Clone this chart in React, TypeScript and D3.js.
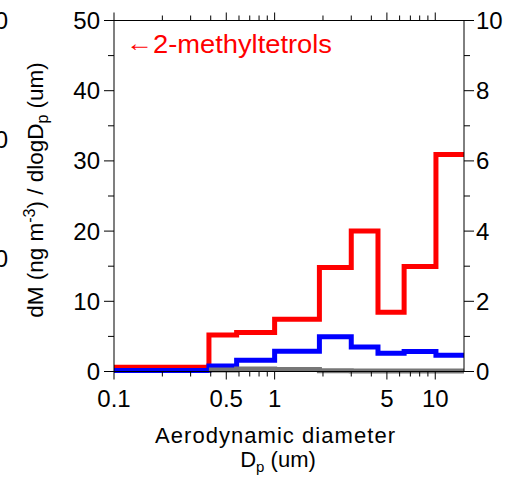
import React from "react";
import * as d3 from "d3";

const edges = [0.1, 0.39, 0.58, 1.0, 1.9, 3.0, 4.4, 6.4, 10.1, 15.1];
const redValues = [0.6, 5.2, 5.55, 7.45, 14.8, 20.0, 8.45, 14.95, 30.9];
const blueValues = [0.15, 0.8, 1.6, 2.9, 4.95, 3.5, 2.6, 2.85, 2.3];
const greyEdges = [0.39, 0.58, 1.0, 1.9, 3.0, 4.4, 6.4, 10.1, 15.1];
const greyValues = [0.2, 0.35, 0.3, 0.12, 0.08, 0.06, 0.06, 0.06];

const xMajor = [0.1, 0.5, 1, 5, 10];
const xMajorLabels = ["0.1", "0.5", "1", "5", "10"];
const xMinor = [0.2, 0.3, 0.4, 0.6, 0.7, 0.8, 0.9, 2, 3, 4, 6, 7, 8, 9];
const yLeftMajor = [0, 10, 20, 30, 40, 50];
const yLeftMinor = [5, 15, 25, 35, 45];
const yRightMajor = [0, 2, 4, 6, 8, 10];
const yRightMinor = [1, 3, 5, 7, 9];

const FONT = "'Liberation Sans', Arial, sans-serif";

export default function App() {
  const L = 114, R = 464, T = 20.5, B = 371.5;
  const x = d3.scaleLog().domain([0.1, 15.1]).range([L, R]);
  const y = d3.scaleLinear().domain([0, 50]).range([B, T]);
  const yR = d3.scaleLinear().domain([0, 10]).range([B, T]);

  const stairs = (e: number[], v: number[]) => {
    const pts: [number, number][] = v.map((val, i) => [e[i], val]);
    pts.push([e[e.length - 1], v[v.length - 1]]);
    return d3
      .line<[number, number]>()
      .x((d) => x(d[0]))
      .y((d) => y(d[1]))
      .curve(d3.curveStepAfter)(pts) as string;
  };

  return (
    <svg
      width={509}
      height={483}
      style={{ position: "absolute", left: 0, top: 0, background: "#fff" }}
      fontFamily={FONT}
    >
      {/* cut-off labels of a neighbouring panel */}
      {[21, 140, 259].map((yy, i) => (
        <text key={"frag" + i} x={8} y={yy + 8} fontSize={24} textAnchor="end" fill="#000">
          0
        </text>
      ))}

      {/* data */}
      <g fill="none" strokeWidth={5} strokeLinejoin="miter">
        <path d={stairs(edges, redValues)} stroke="#ff0000" />
        <path d={stairs(edges, blueValues)} stroke="#0000ff" />
        <path d={stairs(greyEdges, greyValues)} stroke="#777777" />
      </g>

      {/* frame */}
      <rect x={L} y={T} width={R - L} height={B - T} fill="none" stroke="#000" strokeWidth={1} />

      {/* ticks */}
      <g stroke="#000" strokeWidth={1}>
        {xMajor.map((v) => (
          <g key={"xM" + v}>
            <line x1={x(v)} x2={x(v)} y1={B} y2={B + 8} />
            <line x1={x(v)} x2={x(v)} y1={T} y2={T - 8} />
          </g>
        ))}
        {xMinor.map((v) => (
          <g key={"xm" + v}>
            <line x1={x(v)} x2={x(v)} y1={B} y2={B + 5} />
            <line x1={x(v)} x2={x(v)} y1={T} y2={T - 5} />
          </g>
        ))}
        {yLeftMajor.map((v) => (
          <line key={"yl" + v} x1={L} x2={L - 10} y1={y(v)} y2={y(v)} />
        ))}
        {yLeftMinor.map((v) => (
          <line key={"ylm" + v} x1={L} x2={L - 6} y1={y(v)} y2={y(v)} />
        ))}
        {yRightMajor.map((v) => (
          <line key={"yr" + v} x1={R} x2={R + 10} y1={yR(v)} y2={yR(v)} />
        ))}
        {yRightMinor.map((v) => (
          <line key={"yrm" + v} x1={R} x2={R + 6} y1={yR(v)} y2={yR(v)} />
        ))}
      </g>

      {/* tick labels */}
      <g fontSize={24} fill="#000">
        {xMajor.map((v, i) => (
          <text key={"xl" + v} x={x(v)} y={407} textAnchor="middle">
            {xMajorLabels[i]}
          </text>
        ))}
        {yLeftMajor.map((v) => (
          <text key={"yll" + v} x={100} y={y(v) + 8.5} textAnchor="end">
            {v}
          </text>
        ))}
        {yRightMajor.map((v) => (
          <text key={"yrl" + v} x={476} y={yR(v) + 8.5} textAnchor="start">
            {v}
          </text>
        ))}
      </g>

      {/* annotation */}
      <text x={126} y={51} fontSize={24} fill="#ff0000" textLength={27} lengthAdjust="spacingAndGlyphs">
        ←
      </text>
      <text x={153} y={53} fontSize={26} fill="#ff0000" textLength={179} lengthAdjust="spacingAndGlyphs">
        2-methyltetrols
      </text>

      {/* x title */}
      <text x={275} y={443} fontSize={22} textAnchor="middle" fill="#000" textLength={240} lengthAdjust="spacing">
        Aerodynamic diameter
      </text>
      <text x={278} y={467} fontSize={22} textAnchor="middle" fill="#000">
        D<tspan fontSize={15} dy={5}>p</tspan>
        <tspan dy={-5}> (um)</tspan>
      </text>

      {/* y title */}
      <text
        transform="translate(43,190) rotate(-90)"
        fontSize={22.5}
        textAnchor="middle"
        fill="#000"
      >
        dM (ng m<tspan fontSize={16} dy={-8}>-3</tspan>
        <tspan dy={8}>) / dlogD</tspan>
        <tspan fontSize={16} dy={5}>p</tspan>
        <tspan dy={-5}> (um)</tspan>
      </text>
    </svg>
  );
}
